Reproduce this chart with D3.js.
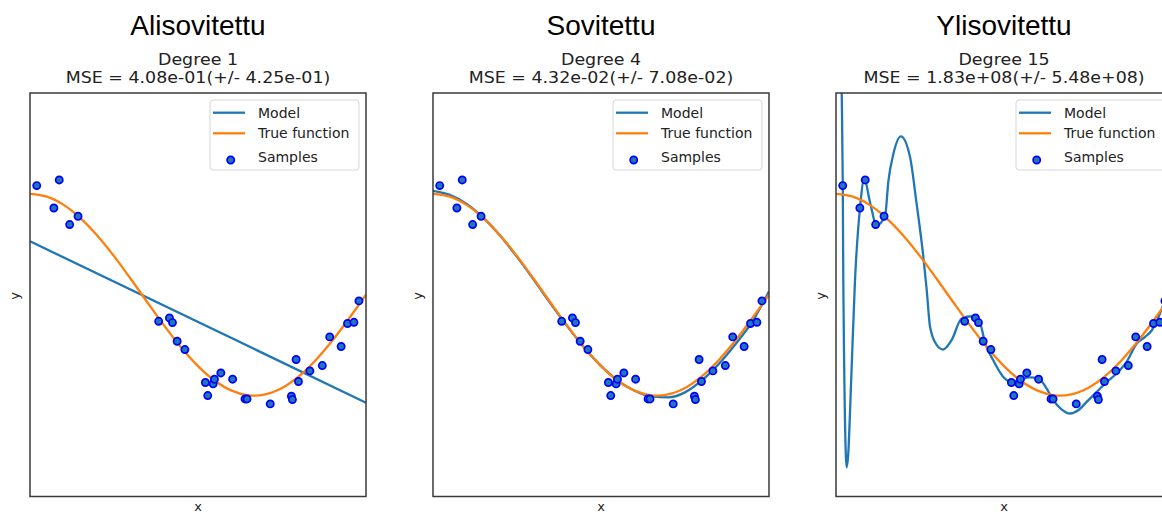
<!DOCTYPE html>
<html>
<head>
<meta charset="utf-8">
<script src="https://cdn.jsdelivr.net/npm/d3@7"></script>
<style>
  body { margin: 0; background: #fff; }
  svg { display: block; }
  .title { font-family: "Liberation Sans", Arial, sans-serif; font-size: 28px; fill: #000; }
  .sub { font-family: "DejaVu Sans", sans-serif; font-size: 16px; fill: #222; }
  .lab { font-family: "DejaVu Sans", sans-serif; font-size: 13px; fill: #222; }
  .leg { font-family: "DejaVu Sans", sans-serif; font-size: 14px; fill: #222; }
</style>
</head>
<body>
<script>
// Panel titles and subtitle texts
const titles = ["Alisovitettu", "Sovitettu", "Ylisovitettu"];
const degrees = [1, 4, 15];
const mseTexts = [
  "MSE = 4.08e-01(+/- 4.25e-01)",
  "MSE = 4.32e-02(+/- 7.08e-02)",
  "MSE = 1.83e+08(+/- 5.48e+08)"
];

// Samples
const sampleX = [0.020, 0.071, 0.087, 0.118, 0.143, 0.383, 0.415, 0.424, 0.438, 0.461,
  0.522, 0.529, 0.545, 0.549, 0.568, 0.603, 0.640, 0.646, 0.715, 0.778,
  0.781, 0.792, 0.799, 0.833, 0.870, 0.892, 0.926, 0.945, 0.964, 0.979];
const sampleY = [1.082, 0.860, 1.138, 0.696, 0.778, -0.263, -0.230, -0.276, -0.461, -0.543,
  -0.870, -0.999, -0.884, -0.837, -0.775, -0.837, -1.033, -1.033, -1.082, -1.006,
  -1.039, -0.642, -0.860, -0.755, -0.702, -0.418, -0.513, -0.285, -0.273, -0.061];

// True function, sampled along x
const gridX = [0, 0.05, 0.1, 0.15, 0.2, 0.25, 0.3, 0.35, 0.4, 0.45, 0.5,
  0.55, 0.6, 0.65, 0.7, 0.75, 0.8, 0.85, 0.9, 0.95, 1];
const trueY = [1, 0.972, 0.891, 0.760, 0.588, 0.383, 0.156, -0.079, -0.309, -0.523, -0.707,
  -0.853, -0.951, -0.997, -0.988, -0.924, -0.809, -0.649, -0.454, -0.233, 0];

// Model curves
const deg1X = [0, 1];
const deg1Y = [0.53, -1.07];
const deg4Y = [1.03, 0.99, 0.90, 0.762, 0.585, 0.375, 0.148, -0.088, -0.314, -0.525, -0.705,
  -0.852, -0.952, -1.008, -1.018, -0.968, -0.850, -0.688, -0.49, -0.27, 0.035];
const deg15X = [0, 0.012, 0.017, 0.0202, 0.0217, 0.0318, 0.036, 0.0446, 0.0565, 0.0714,
  0.0842, 0.101, 0.121, 0.146, 0.156, 0.171, 0.193, 0.220, 0.240, 0.260,
  0.270, 0.280, 0.300, 0.319, 0.344, 0.374, 0.405, 0.429, 0.443, 0.468,
  0.498, 0.523, 0.548, 0.577, 0.602, 0.627, 0.647, 0.672, 0.696, 0.721,
  0.746, 0.776, 0.806, 0.835, 0.865, 0.895, 0.920, 0.940, 0.960, 0.980, 1.0];
const deg15Y = [4.0, 2.6, 2.0, 1.08, 0.145, -1.71, -1.6, -0.9, 0.14, 0.86,
  1.15, 0.92, 0.69, 0.78, 1.13, 1.40, 1.57, 1.37, 0.90, 0.375,
  0.045, -0.32, -0.50, -0.543, -0.45, -0.236, -0.213, -0.285, -0.468, -0.65,
  -0.815, -0.864, -0.84, -0.82, -0.83, -0.93, -1.046, -1.138, -1.177, -1.145,
  -1.062, -0.963, -0.864, -0.781, -0.666, -0.484, -0.418, -0.352, -0.22, -0.05, 0.1];

const models = [
  deg1X.map((x, i) => [x, deg1Y[i]]),
  gridX.map((x, i) => [x, deg4Y[i]]),
  deg15X.map((x, i) => [x, deg15Y[i]])
];
const truePts = gridX.map((x, i) => [x, trueY[i]]);
const samples = sampleX.map((x, i) => [x, sampleY[i]]);

// Layout
const W = 1162, H = 514;
const lefts = [30, 433, 836];
const pw = 336, axTop = 93, axBottom = 496.5;

const svg = d3.select("body").append("svg")
  .attr("width", W)
  .attr("height", H);

const y = d3.scaleLinear().domain([-2, 2]).range([axBottom, axTop]);

lefts.forEach((left, p) => {
  const x = d3.scaleLinear().domain([0, 1]).range([left, left + pw]);
  const g = svg.append("g");
  const cx = left + pw / 2;

  g.append("text").attr("class", "title")
    .attr("x", cx).attr("y", 35).attr("text-anchor", "middle")
    .text(titles[p]);
  // subtitle is a bit wider in the source, stretch it horizontally
  g.append("text").attr("class", "sub")
    .attr("transform", `translate(${cx}, 64.5) scale(1.09, 1)`)
    .attr("text-anchor", "middle")
    .text(`Degree ${degrees[p]}`);
  g.append("text").attr("class", "sub")
    .attr("transform", `translate(${cx}, 83) scale(1.09, 1)`)
    .attr("text-anchor", "middle")
    .text(mseTexts[p]);

  // clip to axes
  const clipId = `clip${p}`;
  svg.append("clipPath").attr("id", clipId)
    .append("rect")
    .attr("x", left).attr("y", axTop)
    .attr("width", pw).attr("height", axBottom - axTop);

  const plot = g.append("g").attr("clip-path", `url(#${clipId})`);
  const line = d3.line()
    .x(d => x(d[0]))
    .y(d => y(d[1]))
    .curve(p === 0 ? d3.curveLinear : d3.curveMonotoneX);
  const tline = d3.line()
    .x(d => x(d[0]))
    .y(d => y(d[1]))
    .curve(d3.curveCatmullRom);

  plot.append("path")
    .attr("d", line(models[p]))
    .attr("fill", "none")
    .attr("stroke", "#1f77b4")
    .attr("stroke-width", 2.3);
  plot.append("path")
    .attr("d", tline(truePts))
    .attr("fill", "none")
    .attr("stroke", "#ff7f0e")
    .attr("stroke-width", 2.3);
  plot.selectAll("circle")
    .data(samples)
    .enter()
    .append("circle")
    .attr("cx", d => x(d[0]))
    .attr("cy", d => y(d[1]))
    .attr("r", 3.6)
    .attr("fill", "#1f77b4")
    .attr("stroke", "#0000ff")
    .attr("stroke-width", 1.7);

  // frame
  g.append("rect")
    .attr("x", left).attr("y", axTop)
    .attr("width", pw).attr("height", axBottom - axTop)
    .attr("fill", "none")
    .attr("stroke", "#3a3a3a")
    .attr("stroke-width", 1.5);

  // axis labels
  g.append("text").attr("class", "lab")
    .attr("x", cx).attr("y", 510.5).attr("text-anchor", "middle")
    .text("x");
  g.append("text").attr("class", "lab")
    .attr("transform", `translate(${left - 11}, 296) rotate(-90)`)
    .attr("text-anchor", "middle")
    .text("y");

  // legend
  const lg = g.append("g").attr("transform", `translate(${left + 180}, 100)`);
  lg.append("rect")
    .attr("width", 149).attr("height", 70)
    .attr("rx", 3)
    .attr("fill", "#fff").attr("fill-opacity", 0.8)
    .attr("stroke", "#d6d6d6");
  const rows = [["Model", "#1f77b4"], ["True function", "#ff7f0e"], ["Samples", null]];
  rows.forEach((r, i) => {
    const ry = [12.7, 33.3, 56.7][i];
    if (r[1]) {
      lg.append("line")
        .attr("x1", 3).attr("x2", 35)
        .attr("y1", ry).attr("y2", ry)
        .attr("stroke", r[1]).attr("stroke-width", 2.3);
    } else {
      lg.append("circle")
        .attr("cx", 20.7).attr("cy", ry + 3.3).attr("r", 3.6)
        .attr("fill", "#1f77b4").attr("stroke", "#0000ff").attr("stroke-width", 1.7);
    }
    lg.append("text").attr("class", "leg")
      .attr("x", 48).attr("y", ry + 5)
      .text(r[0]);
  });
});
</script>
</body>
</html>
